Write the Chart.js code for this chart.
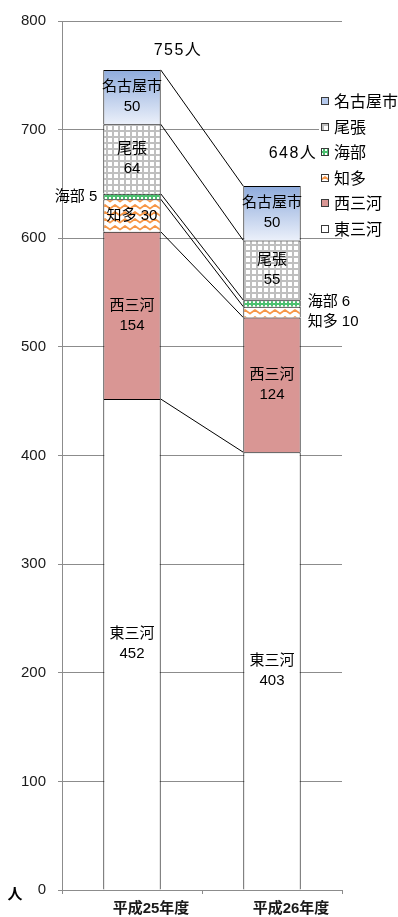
<!DOCTYPE html>
<html lang="ja">
<head>
<meta charset="utf-8">
<title>地域別 人数</title>
<script src="https://cdn.jsdelivr.net/npm/chart.js@4.4.1/dist/chart.umd.min.js"></script>
<style>
  html, body { margin: 0; padding: 0; background: #fff; }
  #wrap { width: 398px; height: 917px; }
</style>
</head>
<body>
<div id="wrap"><canvas id="myChart" width="398" height="917"></canvas></div>
<script>
// 年度ごとの地域別人数
const categories = ['平成25年度', '平成26年度'];
const seriesNames = ['東三河', '西三河', '知多', '海部', '尾張', '名古屋市'];
const higashiMikawa = [452, 403];
const nishiMikawa = [154, 124];
const chita = [30, 10];
const ama = [5, 6];
const owari = [64, 55];
const nagoya = [50, 50];
const totals = [755, 648];
const yMin = 0, yMax = 800, yStep = 100;

const seriesValues = [higashiMikawa, nishiMikawa, chita, ama, owari, nagoya];

Chart.defaults.font.family = "'Liberation Sans', 'Noto Sans CJK JP', sans-serif";
Chart.defaults.color = '#1a1a1a';

const ctx = document.getElementById('myChart');
const ctx2d = ctx.getContext('2d');

// 塗りつぶし用パターン
const gridPattern = (function () {
  const c = document.createElement('canvas');
  c.width = 6; c.height = 6;
  const g = c.getContext('2d');
  g.fillStyle = '#bfbfbf'; g.fillRect(0, 0, 6, 6);
  g.fillStyle = '#ffffff'; g.fillRect(0, 0, 4, 4);
  return ctx2d.createPattern(c, 'repeat');
})();

const dotPattern = (function () {
  const c = document.createElement('canvas');
  c.width = 4; c.height = 4;
  const g = c.getContext('2d');
  g.fillStyle = '#4cc070'; g.fillRect(0, 0, 4, 4);
  g.fillStyle = '#ffffff'; g.fillRect(1, 1, 2, 2);
  return ctx2d.createPattern(c, 'repeat');
})();

const wavePattern = (function () {
  const c = document.createElement('canvas');
  c.width = 10; c.height = 7;
  const g = c.getContext('2d');
  g.fillStyle = '#ffffff'; g.fillRect(0, 0, 10, 7);
  g.strokeStyle = '#f79646';
  g.lineWidth = 1.8;
  g.lineJoin = 'round';
  g.beginPath();
  g.moveTo(-5, 2); g.lineTo(0, 5.5); g.lineTo(5, 2); g.lineTo(10, 5.5); g.lineTo(15, 2);
  g.stroke();
  return ctx2d.createPattern(c, 'repeat');
})();

// 下に積まれた値の合計
function stackBelow(seriesIndex, i) {
  let s = 0;
  for (let k = 0; k < seriesIndex; k++) s += seriesValues[k][i];
  return s;
}

function nagoyaFill(context) {
  const chart = context.chart;
  const y = chart.scales && chart.scales.y;
  const i = context.dataIndex;
  if (!y || i === undefined || !chart.chartArea) return '#b8cbec';
  const base = stackBelow(5, i);
  const top = base + nagoya[i];
  const g = chart.ctx.createLinearGradient(0, y.getPixelForValue(top), 0, y.getPixelForValue(base));
  g.addColorStop(0, '#8eabdc');
  g.addColorStop(1, '#ebf0fa');
  return g;
}

const fills = ['#ffffff', '#d99694', wavePattern, dotPattern, gridPattern, nagoyaFill];
const legendFills = ['#ffffff', '#d99694', wavePattern, dotPattern, gridPattern, '#b4c8ec'];

// 系列線
const seriesLines = {
  id: 'seriesLines',
  afterDatasetsDraw(chart) {
    const c = chart.ctx;
    c.save();
    c.strokeStyle = '#000';
    c.lineWidth = 1;
    chart.data.datasets.forEach((ds, di) => {
      const meta = chart.getDatasetMeta(di);
      const a = meta.data[0], b = meta.data[1];
      c.beginPath();
      c.moveTo(a.x + a.width / 2, a.y);
      c.lineTo(b.x - b.width / 2, b.y);
      c.stroke();
    });
    c.restore();
  }
};

// データラベルの置き方
function placement(di, i) {
  if (di === 3 && i === 0) return { mode: 'left', dy: 0 };
  if (di === 3 && i === 1) return { mode: 'right', dy: -2 };
  if (di === 2 && i === 1) return { mode: 'right', dy: 10 };
  if (di === 2 && i === 0) return { mode: 'single', dy: 0 };
  return { mode: 'double', dy: 0 };
}

const dataLabels = {
  id: 'dataLabels',
  afterDatasetsDraw(chart) {
    const c = chart.ctx;
    c.save();
    c.fillStyle = '#000';
    c.font = "15px 'Liberation Sans', 'Noto Sans CJK JP', sans-serif";
    c.textBaseline = 'middle';
    chart.data.datasets.forEach((ds, di) => {
      const meta = chart.getDatasetMeta(di);
      meta.data.forEach((el, i) => {
        const name = ds.label;
        const val = ds.data[i];
        const cy = (el.y + el.base) / 2;
        const p = placement(di, i);
        if (p.mode === 'left') {
          c.textAlign = 'right';
          c.fillText(name + ' ' + val, el.x - el.width / 2 - 6, cy + p.dy);
        } else if (p.mode === 'right') {
          c.textAlign = 'left';
          c.fillText(name + ' ' + val, el.x + el.width / 2 + 7, cy + p.dy);
        } else if (p.mode === 'single') {
          c.textAlign = 'center';
          c.fillText(name + ' ' + val, el.x, cy);
        } else {
          c.textAlign = 'center';
          c.fillText(name, el.x, cy - 10);
          c.fillText(String(val), el.x, cy + 10);
        }
      });
    });

    // 合計
    const topMeta = chart.getDatasetMeta(chart.data.datasets.length - 1);
    const shift = [[46, 19], [21, 33]];
    c.textAlign = 'center';
    c.font = "16px 'Liberation Sans', 'Noto Sans CJK JP', sans-serif";
    c.letterSpacing = '1.5px';
    topMeta.data.forEach((el, i) => {
      c.fillText(totals[i] + '人', el.x + shift[i][0], el.y - shift[i][1]);
    });
    c.letterSpacing = '0px';

    // 単位
    const y = chart.scales.y;
    c.font = "bold 15px 'Noto Sans CJK JP', sans-serif";
    c.fillText('人', 15, y.getPixelForValue(0) + 3);
    c.restore();
  }
};

// 凡例
const sideLegend = {
  id: 'sideLegend',
  afterDraw(chart) {
    const c = chart.ctx;
    c.save();
    c.fillStyle = '#fff';
    c.fillRect(319, 89, 79, 146);
    c.font = "16px 'Noto Sans CJK JP', sans-serif";
    c.textBaseline = 'middle';
    c.textAlign = 'left';
    for (let n = 0; n < seriesNames.length; n++) {
      const di = seriesNames.length - 1 - n;
      const y = 101 + n * 25.5;
      c.fillStyle = legendFills[di];
      c.fillRect(321, Math.round(y) - 4, 8, 8);
      c.strokeStyle = '#3a3a3a';
      c.lineWidth = 1;
      c.strokeRect(321.5, Math.round(y) - 3.5, 7, 7);
      c.fillStyle = '#000';
      c.fillText(seriesNames[di], 334, y);
    }
    c.restore();
  }
};

const myChart = new Chart(ctx, {
  type: 'bar',
  data: {
    labels: categories,
    datasets: seriesNames.map((name, di) => ({
      label: name,
      data: seriesValues[di],
      backgroundColor: fills[di],
      borderColor: '#000',
      borderWidth: 1,
      borderSkipped: 'start',
      barPercentage: 0.41,
      categoryPercentage: 1.0
    }))
  },
  options: {
    responsive: false,
    animation: false,
    layout: { padding: { top: 18, right: 56, bottom: 0, left: 0 } },
    plugins: {
      legend: { display: false },
      tooltip: { enabled: false }
    },
    scales: {
      x: {
        stacked: true,
        grid: { drawOnChartArea: false, color: '#8c8c8c', tickLength: 4 },
        border: { color: '#8c8c8c' },
        ticks: {
          font: { size: 15, weight: 'bold' },
          padding: 6,
          labelOffset: 19,
          maxRotation: 0
        },
        afterFit(scale) { scale.height = 27; }
      },
      y: {
        stacked: true,
        min: yMin,
        max: yMax,
        grid: { color: '#8c8c8c', tickLength: 4 },
        border: { color: '#8c8c8c' },
        ticks: { stepSize: yStep, font: { size: 15 }, padding: 12 },
        afterFit(scale) { scale.width = 62; }
      }
    }
  },
  plugins: [seriesLines, dataLabels, sideLegend]
});
</script>
</body>
</html>
